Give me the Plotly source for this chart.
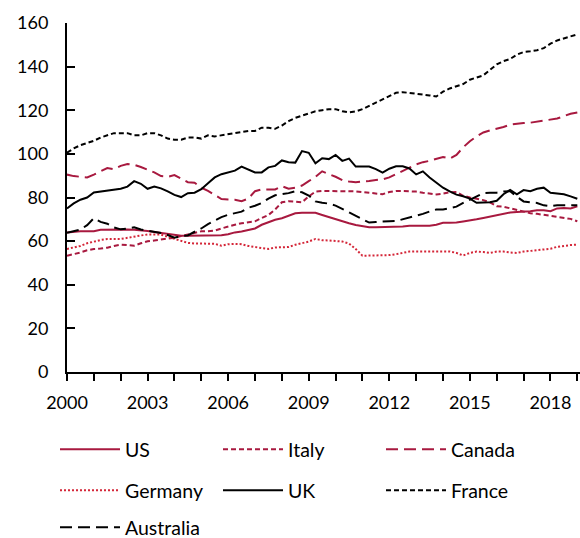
import plotly.graph_objects as go

# Quarterly observations, 2000Q1 .. 2019Q1
quarters = [2000 + 0.25 * i for i in range(77)]

us = [64, 64.3, 64.5, 64.5, 64.5, 65.2, 65.3, 65.3, 65.3, 65.3, 65.2, 65, 64.6, 64.2, 63.7, 63.2,
      62.8, 62.5, 62.5, 62.5, 62.5, 62.5, 62.5, 62.7, 63.2, 64, 64.4, 65, 65.8, 67.5, 68.8, 69.8,
      70.5, 71.7, 72.8, 73, 73, 73, 72, 71, 70, 69.1, 68.2, 67.4, 66.9, 66.4, 66.4, 66.4,
      66.4, 66.4, 66.7, 67.1, 67.1, 67.1, 67.1, 67.5, 68.4, 68.4, 68.5, 69, 69.4, 70, 70.6, 71.2,
      71.8, 72.6, 73.1, 73.3, 73.4, 73.7, 74.1, 74.2, 73.7, 75, 75.2, 75, 76]

italy = [53.3, 54, 54.8, 55.8, 56.4, 56.6, 57, 57.8, 58.4, 58.2, 57.9, 59, 59.9, 60.3, 60.7, 61.2,
         61.6, 62.3, 63, 64, 64.5, 64.5, 64.8, 65.8, 66.8, 67.5, 68.2, 68.7, 69.1, 70.6, 72, 74.5,
         77.8, 78.3, 78.2, 77.8, 80.5, 82.7, 83, 83, 83, 83, 83, 82.8, 82.5, 82.2, 81.8, 81.5,
         82.5, 83, 83, 83, 82.7, 82.2, 81.7, 81.4, 81.8, 82.4, 82.5, 80.8, 80, 79.4, 78.8, 77.8,
         76, 75.8, 75, 74.2, 73.4, 72.8, 72.5, 72, 71.5, 71.1, 70.8, 70.2, 69.1]

canada = [90.5, 89.8, 89.5, 89.2, 90.5, 92, 93.5, 93, 94.5, 95.3, 95, 94, 92.8, 91.5, 89.8, 89.5,
          90.3, 88.5, 87, 86.8, 84.5, 83, 81, 79.3, 79.1, 79, 78.3, 79.5, 82.9, 83.7, 83.7, 83.7,
          85.2, 84, 84.5, 85.5, 87.5, 89.5, 92, 90.8, 89.5, 88, 87.3, 87, 87.2, 87.6, 88, 88.3,
          89.2, 90.8, 92.3, 93.7, 95.2, 96.2, 96.8, 97.8, 98.6, 97.8, 99.5, 103, 105.8, 108, 109.8, 110.8,
          111.5, 112.3, 113.4, 113.9, 114.1, 114.3, 114.8, 115.3, 115.8, 116.2, 117.3, 118.4, 119]

germany = [56.4, 57, 57.8, 59, 59.9, 60.5, 61, 61, 61, 61.5, 62.2, 62.6, 63, 63, 63, 62,
           61, 60, 59.2, 58.9, 58.8, 58.8, 58.8, 57.9, 58.6, 58.7, 58.6, 57.8, 57.2, 56.8, 56.4, 57.1,
           57.2, 57.3, 58.3, 59, 59.8, 61, 60.4, 60.3, 60.1, 59.8, 58.9, 56.4, 53.3, 53.3, 53.3, 53.3,
           53.6, 54, 54.5, 55.2, 55.3, 55.3, 55.3, 55.3, 55.1, 55.3, 54.6, 53.4, 54.6, 55.2, 55, 54.6,
           55.2, 55.2, 54.8, 54.6, 55.2, 55.6, 56, 56.2, 56.5, 57.4, 57.9, 58.2, 58.4]

uk = [75, 77.3, 79, 80, 82.3, 82.7, 82.9, 83.5, 84, 85, 87.5, 86.3, 84, 85, 84.2, 82.8,
      81.2, 80.2, 82, 82.2, 83.8, 86.5, 89.2, 90.7, 91.5, 92.3, 94.2, 93, 91.5, 91.5, 93.8, 94.5,
      97, 96.2, 96, 101.3, 100.5, 95.7, 98, 97.6, 99.5, 96.8, 97.8, 94.2, 94.2, 94.2, 93, 91.4,
      93.2, 94.3, 94.3, 93.3, 90.6, 92, 89.2, 87, 84.5, 82.8, 81.3, 80.6, 79.5, 77.6, 77.6, 77.8,
      78.5, 81.5, 83.5, 81.5, 83.4, 82.9, 84, 84.5, 82.2, 82, 81.5, 80.5, 79.4]

france = [100.5, 102.5, 104, 105, 106, 107.5, 108.5, 109.5, 109.5, 109.5, 108.5, 108.5, 109.5, 109.5, 108.5, 107,
          106.5, 106.5, 107.5, 107.5, 107, 108.5, 108, 108.5, 109, 109.5, 110, 110.5, 110.5, 112, 112, 111.5,
          113, 115, 116.5, 117.5, 118.5, 119.5, 120, 120.5, 120.5, 119.5, 119, 119.5, 120.5, 122, 123.5, 125,
          126.5, 128, 128.3, 128, 127.5, 127.3, 126.8, 126.3, 128.5, 130, 131, 132, 134, 135, 136, 138.5,
          141, 142.5, 143.5, 145.5, 146.7, 147, 147.5, 148.5, 150.5, 152, 153, 154, 154.8]

australia = [63.8, 64.5, 65.3, 67.3, 70.5, 68.8, 68, 66.3, 65.4, 65.8, 66.3, 65.3, 64.8, 64.3, 63.7, 62.8,
             61.6, 62.3, 62.6, 64.3, 65.8, 67.8, 69.5, 71, 72.1, 72.9, 73.5, 75.3, 76.2, 77.5, 79.5, 81,
             81.4, 82, 82.9, 82.4, 80.9, 78.2, 77.6, 77.2, 76.3, 74.7, 73.4, 71.8, 69.9, 68.5, 68.8, 69.1,
             69.1, 69.2, 70, 70.7, 71.4, 72.5, 73.6, 74.5, 74.5, 75, 75.8, 77.5, 79.1, 80.6, 82, 82.2,
             82.2, 82.7, 82.9, 80.3, 78.2, 77.8, 77.5, 76.4, 76, 76.4, 76.5, 76.5, 76.5]

year_ticks = [2000, 2003, 2006, 2009, 2012, 2015, 2018]
y_ticks = [0, 20, 40, 60, 80, 100, 120, 140, 160]

CRIMSON = "#A8193F"
RED = "#D42638"
BLACK = "#000000"
FONT = "Lato, 'Open Sans', sans-serif"

series = [
    ("US", us, CRIMSON, "solid", "legend"),
    ("Italy", italy, CRIMSON, "5px,3px", "legend"),
    ("Canada", canada, CRIMSON, "12px,6px", "legend"),
    ("Germany", germany, RED, "2px,2px", "legend2"),
    ("UK", uk, BLACK, "solid", "legend2"),
    ("France", france, BLACK, "5px,3px", "legend2"),
    ("Australia", australia, BLACK, "12px,6px", "legend3"),
]

fig = go.Figure()
for name, vals, color, dash, leg in series:
    fig.add_trace(go.Scatter(
        x=quarters, y=vals, mode="lines", name=name,
        line=dict(color=color, width=2, dash=dash),
        legend=leg,
    ))

W, H = 580, 538
L, R, T, B = 67, 0, 23, 166
PW, PH = W - L - R, H - T - B


def px_x(px):
    return (px - L) / PW


def px_y(py):
    return (H - B - py) / PH


legend_common = dict(
    orientation="h", xref="paper", yref="paper", yanchor="top", xanchor="left",
    font=dict(family=FONT, size=19.5, color="black"), itemwidth=60,
    entrywidth=88, entrywidthmode="pixels", traceorder="normal",
    bgcolor="rgba(0,0,0,0)", x=px_x(55),
)

fig.update_layout(
    width=W, height=H,
    margin=dict(l=L, r=R, t=T, b=B, autoexpand=False),
    paper_bgcolor="white", plot_bgcolor="white",
    font=dict(family=FONT, size=18, color="black"),
    showlegend=True,
    legend=dict(y=px_y(430), **legend_common),
    legend2=dict(y=px_y(471), **legend_common),
    legend3=dict(y=px_y(508), **legend_common),
    xaxis=dict(
        range=[2000, 2019.1], showgrid=False, zeroline=False,
        showline=True, linecolor="black", linewidth=2,
        tickmode="array", tickvals=year_ticks, ticktext=[str(t) for t in year_ticks],
        ticks="outside", ticklen=7, tickwidth=2, tickcolor="black",
        minor=dict(dtick=1, tick0=2000, ticks="outside", ticklen=7, tickwidth=2, tickcolor="black", showgrid=False),
        tickfont=dict(family=FONT, size=18, color="black"),
        ticklabelstandoff=6,
    ),
    yaxis=dict(
        range=[0, 160], showgrid=False, zeroline=False,
        showline=True, linecolor="black", linewidth=2,
        tickmode="array", tickvals=y_ticks,
        ticks="inside", ticklen=8, tickwidth=2, tickcolor="black",
        tickfont=dict(family=FONT, size=18, color="black"),
        ticklabelstandoff=13,
    ),
)

fig.write_html(
    "out.html",
    config={"displayModeBar": False},
    post_script="document.body.style.margin='0';document.body.style.overflow='hidden';",
)
